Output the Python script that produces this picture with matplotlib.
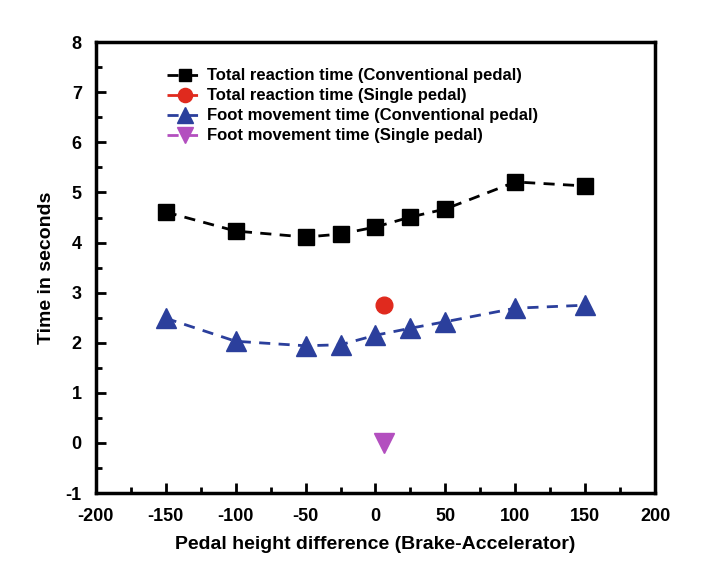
import matplotlib
matplotlib.use("Agg")
import matplotlib.pyplot as plt
from matplotlib.ticker import MultipleLocator

plt.rcParams['font.family'] = ['Liberation Sans', 'DejaVu Sans']
plt.rcParams['font.weight'] = 'bold'
plt.rcParams['axes.unicode_minus'] = False

# data
height_diff = [-150, -100, -50, -25, 0, 25, 50, 100, 150]
total_conv = [4.61, 4.23, 4.11, 4.17, 4.31, 4.51, 4.67, 5.21, 5.13]
foot_conv = [2.49, 2.03, 1.94, 1.96, 2.15, 2.29, 2.42, 2.69, 2.75]
single_x = [6]
total_single = [2.75]
foot_single = [0.0]

labels = ['Total reaction time (Conventional pedal)',
          'Total reaction time (Single pedal)',
          'Foot movement time (Conventional pedal)',
          'Foot movement time (Single pedal)']

fig = plt.figure(figsize=(7.2, 5.7), dpi=100)
ax = fig.add_axes([0.133, 0.135, 0.777, 0.791])

dash = (0, (4, 3))
ax.plot(height_diff, total_conv, color='black', ls=dash, lw=2,
        marker='s', ms=11, label=labels[0])
ax.plot(single_x, total_single, color='#e02a1e', ls=dash, lw=2,
        marker='o', ms=12, label=labels[1])
ax.plot(height_diff, foot_conv, color='#2b3f9c', ls=dash, lw=2,
        marker='^', ms=14, label=labels[2])
ax.plot(single_x, foot_single, color='#b34fbf', ls=dash, lw=2,
        marker='v', ms=14, label=labels[3])

ax.set_xlim(-200, 200)
ax.set_ylim(-1, 8)
ax.xaxis.set_major_locator(MultipleLocator(50))
ax.xaxis.set_minor_locator(MultipleLocator(25))
ax.yaxis.set_major_locator(MultipleLocator(1))
ax.yaxis.set_minor_locator(MultipleLocator(0.5))
ax.tick_params(which='both', direction='in', top=False, right=False,
               width=2, labelsize=13)
ax.tick_params(which='major', length=7)
ax.tick_params(which='minor', length=4)
ax.tick_params(axis='x', which='major', pad=11)
ax.tick_params(axis='y', which='major', pad=10)
for s in ax.spines.values():
    s.set_linewidth(2.5)

ax.set_xlabel('Pedal height difference (Brake-Accelerator)', fontsize=14,
              fontweight='bold', labelpad=8)
ax.set_ylabel('Time in seconds', fontsize=14, fontweight='bold', labelpad=8)

ax.legend(loc='upper left', bbox_to_anchor=(0.1, 0.975), frameon=False,
          fontsize=12, handlelength=2.2, handletextpad=0.2,
          labelspacing=0.3, numpoints=1, markerscale=0.85)

fig.savefig('out.png', dpi=100)
